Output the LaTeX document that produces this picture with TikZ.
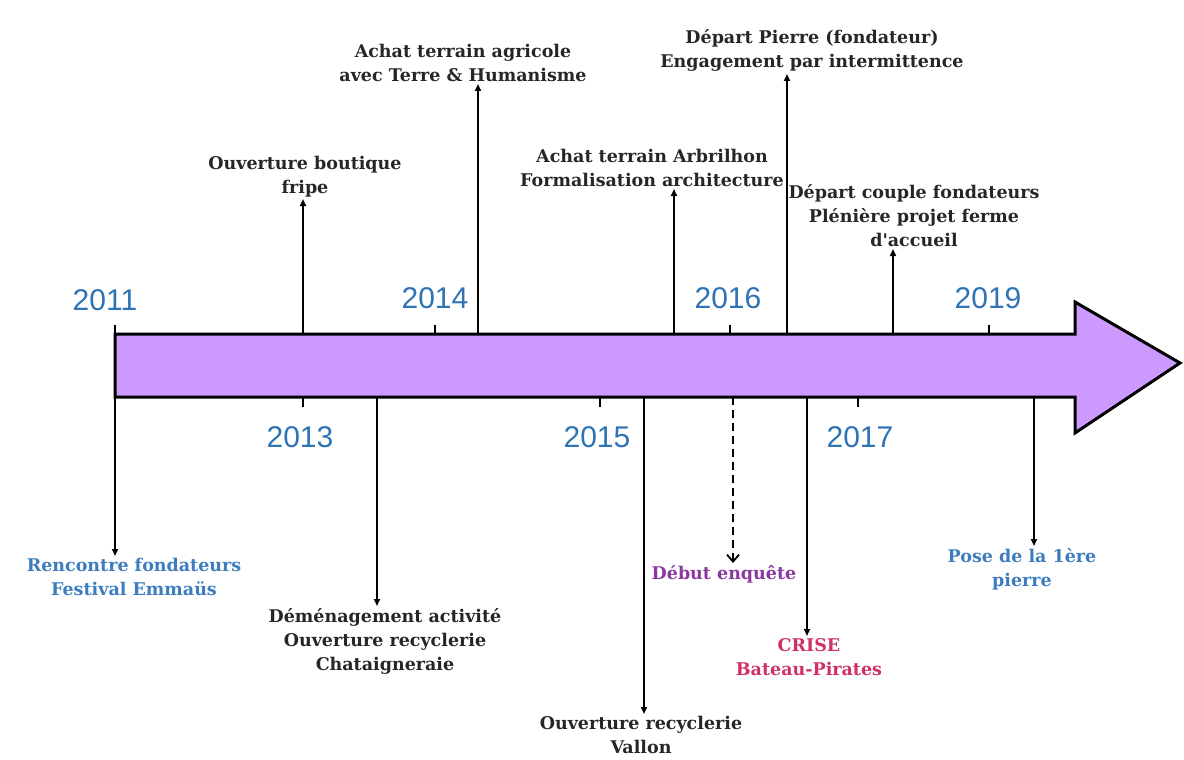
\documentclass[tikz,border=0pt]{standalone}
\usepackage{fontspec}
\setmainfont{DejaVu Serif}
\newfontfamily\lblfont{DejaVu Serif}
\newfontfamily\yearfont{Liberation Sans}
\usetikzlibrary{arrows.meta}
\definecolor{arrowfill}{HTML}{CC99FF}
\definecolor{yearblue}{HTML}{2E74B5}
\definecolor{lblblue}{HTML}{3D7DBE}
\definecolor{lblpurple}{HTML}{8A3A9E}
\definecolor{lblpink}{HTML}{D0306A}
\tikzset{
  year/.style={font=\yearfont\fontsize{30}{32}\selectfont, text=yearblue, inner sep=0pt},
  evtlabel/.style={font=\lblfont\bfseries\fontsize{17.5}{24}\selectfont, align=center, inner sep=2pt, text=black!85},
  conn/.style={line width=1.8pt, -{Triangle[length=7pt,width=6pt]}},
  tick/.style={line width=1.8pt},
}
\begin{document}
\begin{tikzpicture}[x=1pt,y=-1pt]
\useasboundingbox (0,0) rectangle (1184,760);
% main arrow
\filldraw[fill=arrowfill, draw=black, line width=3pt, line join=miter]
  (115,334) -- (1075,334) -- (1075,302) -- (1180,363) -- (1075,433) -- (1075,397) -- (115,397) -- cycle;
% year ticks
\coordinate (t11) at (115,325);
\draw[tick] (435,325) -- (435,334);
\draw[tick] (730,325) -- (730,334);
\draw[tick] (989,325) -- (989,334);
\draw[tick] (303,397) -- (303,407);
\draw[tick] (600,397) -- (600,407);
\draw[tick] (858,397) -- (858,407);
% years
\node[year] (y2011) at (105,300) {2011};
\node[year] (y2013) at (300,437) {2013};
\node[year] (y2014) at (435,298) {2014};
\node[year] (y2015) at (597,437) {2015};
\node[year] (y2016) at (728,298) {2016};
\node[year] (y2017) at (860,437) {2017};
\node[year] (y2019) at (988,298) {2019};
% attachment points
\coordinate (a1) at (303,334);
\coordinate (a2) at (478,334);
\coordinate (a3) at (674,334);
\coordinate (a4) at (787,334);
\coordinate (a5) at (893,334);
\coordinate (b2) at (377,397);
\coordinate (b3) at (644,397);
\coordinate (b4) at (733,397);
\coordinate (b5) at (807,397);
\coordinate (b6) at (1034,397);
% labels above
\node[evtlabel, anchor=south] (l1) at (305,199) {Ouverture boutique\\fripe};
\node[evtlabel, anchor=south] (l2) at (463,84) {Achat terrain agricole\\avec Terre \& Humanisme};
\node[evtlabel, anchor=south] (l3) at (652,189) {Achat terrain Arbrilhon\\Formalisation architecture};
\node[evtlabel, anchor=south] (l4) at (812,74) {Départ Pierre (fondateur)\\Engagement par intermittence};
\node[evtlabel, anchor=south] (l5) at (914,249) {Départ couple fondateurs\\Plénière projet ferme\\d'accueil};
% labels below
\node[evtlabel, anchor=north, text=lblblue] (m1) at (134,556) {Rencontre fondateurs\\Festival Emmaüs};
\node[evtlabel, anchor=north] (m2) at (385,606) {Déménagement activité\\Ouverture recyclerie\\Chataigneraie};
\node[evtlabel, anchor=north] (m3) at (641,714) {Ouverture recyclerie\\Vallon};
\node[evtlabel, anchor=north, text=lblpurple] (m4) at (724,563) {Début enquête};
\node[evtlabel, anchor=north, text=lblpink] (m5) at (809,636) {CRISE\\Bateau-Pirates};
\node[evtlabel, anchor=north, text=lblblue] (m6) at (1022,546) {Pose de la 1ère\\pierre};
% connectors up
\draw[conn] (a1) -- (a1 |- l1.south);
\draw[conn] (a2) -- (a2 |- l2.south);
\draw[conn] (a3) -- (a3 |- l3.south);
\draw[conn] (a4) -- (a4 |- l4.south);
\draw[conn] (a5) -- (a5 |- l5.south);
% connectors down
\draw[conn] (t11) -- (t11 |- m1.north);
\draw[conn] (b2) -- (b2 |- m2.north);
\draw[conn] (b3) -- (b3 |- m3.north);
\draw[line width=1.8pt, dash pattern=on 8pt off 5pt, -{Straight Barb[length=7pt,width=12pt,line width=1.8pt]}] (b4) -- (b4 |- m4.north);
\draw[conn] (b5) -- (b5 |- m5.north);
\draw[conn] (b6) -- (b6 |- m6.north);
\end{tikzpicture}
\end{document}
